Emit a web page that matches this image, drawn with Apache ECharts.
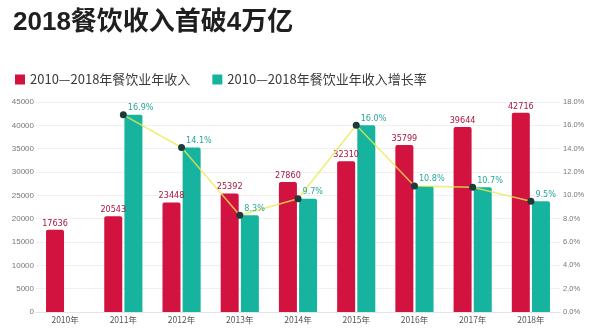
<!DOCTYPE html>
<html>
<head>
<meta charset="utf-8">
<script src="https://cdn.jsdelivr.net/npm/echarts@6/dist/echarts.min.js"></script>
<style>
  html, body { margin: 0; padding: 0; background: #ffffff; }
  #chart { width: 600px; height: 335px; }
</style>
</head>
<body>
<div id="chart"></div>
<script>
// Years on the category axis
var years = ['2010年', '2011年', '2012年', '2013年', '2014年', '2015年', '2016年', '2017年', '2018年'];
// Annual catering revenue (亿元)
var revenue = [17636, 20543, 23448, 25392, 27860, 32310, 35799, 39644, 42716];
// Year-on-year growth rate (%); no figure for 2010
var growth = [null, 16.9, 14.1, 8.3, 9.7, 16.0, 10.8, 10.7, 9.5];
// Axis tick settings
var revenueTicks = { min: 0, max: 45000, interval: 5000 };
var growthTicks = { min: 0, max: 18, interval: 2 };

var titleText = '2018餐饮收入首破4万亿';
var revenueName = '2010—2018年餐饮业年收入';
var growthName = '2010—2018年餐饮业年收入增长率';

var RED = '#d2123f';
var TEAL = '#16b49f';
var narrow = '"Liberation Sans Narrow", "DejaVu Sans Condensed", "Liberation Sans", sans-serif';

var chart = echarts.init(document.getElementById('chart'), null, { renderer: 'canvas' });

chart.setOption({
  backgroundColor: '#ffffff',
  animation: false,
  title: {
    text: titleText,
    left: 8,
    top: 5,
    textStyle: {
      fontFamily: '"Liberation Sans", "Noto Sans CJK SC", sans-serif',
      fontSize: 26,
      fontWeight: 'bold',
      color: '#1f1f1f'
    }
  },
  legend: {
    left: 10,
    top: 68,
    itemWidth: 10,
    itemHeight: 10,
    itemGap: 22,
    icon: 'rect',
    data: [revenueName, growthName],
    textStyle: {
      fontFamily: '"Noto Sans CJK SC", sans-serif',
      fontSize: 13,
      color: '#3a3a3a'
    }
  },
  grid: { left: 36, right: 40, top: 102, bottom: 23 },
  xAxis: {
    type: 'category',
    data: years,
    axisLine: { lineStyle: { color: '#e4e4e4' } },
    axisTick: { show: false },
    axisLabel: {
      color: '#555555',
      fontSize: 8.5,
      margin: 4,
      fontFamily: '"Noto Sans CJK SC", sans-serif'
    }
  },
  yAxis: [
    {
      type: 'value',
      min: revenueTicks.min,
      max: revenueTicks.max,
      interval: revenueTicks.interval,
      axisLine: { show: false },
      axisTick: { show: false },
      splitLine: { lineStyle: { color: '#f0f0f0' } },
      axisLabel: {
        color: '#777777',
        fontSize: 8,
        margin: 2,
        fontFamily: '"Liberation Sans", sans-serif',
        formatter: function (v) { return String(v); }
      }
    },
    {
      type: 'value',
      min: growthTicks.min,
      max: growthTicks.max,
      interval: growthTicks.interval,
      axisLine: { show: false },
      axisTick: { show: false },
      splitLine: { show: false },
      axisLabel: {
        color: '#777777',
        fontSize: 7.5,
        margin: 3,
        fontFamily: '"Liberation Sans", sans-serif',
        formatter: function (v) { return v.toFixed(1) + '%'; }
      }
    }
  ],
  series: [
    {
      name: revenueName,
      type: 'bar',
      yAxisIndex: 0,
      data: revenue,
      barWidth: 18,
      barGap: '12%',
      itemStyle: { color: RED, borderRadius: [2, 2, 0, 0] },
      label: {
        show: true,
        position: 'top',
        distance: 2,
        color: '#a8173d',
        fontSize: 9,
        fontFamily: narrow
      }
    },
    {
      name: growthName,
      type: 'bar',
      yAxisIndex: 1,
      data: growth,
      barWidth: 18,
      itemStyle: { color: TEAL, borderRadius: [2, 2, 0, 0] }
    },
    {
      name: 'growthLine',
      type: 'line',
      yAxisIndex: 1,
      data: growth,
      z: 5,
      symbol: 'circle',
      symbolSize: 7,
      itemStyle: { color: '#1f3a38' },
      lineStyle: { color: 'rgba(232, 234, 80, 0.8)', width: 1.5 },
      label: {
        show: true,
        position: 'right',
        distance: 1,
        offset: [0, -7],
        color: '#2aa79b',
        fontSize: 9,
        fontFamily: narrow,
        formatter: function (p) { return p.value.toFixed(1) + '%'; }
      }
    }
  ]
});
</script>
</body>
</html>
